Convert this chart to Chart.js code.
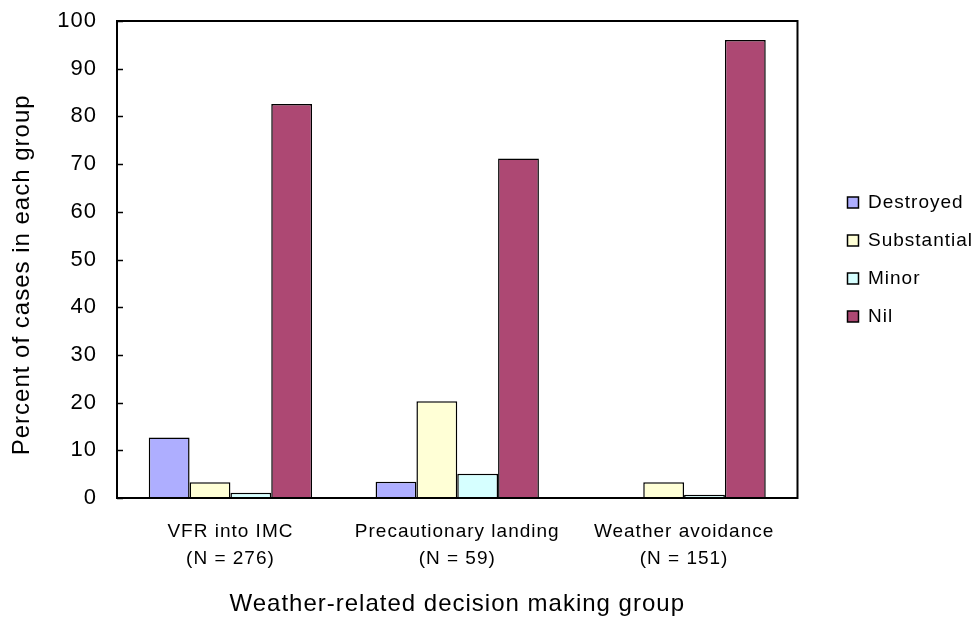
<!DOCTYPE html>
<html>
<head>
<meta charset="utf-8">
<script src="https://cdn.jsdelivr.net/npm/chart.js@4.4.1/dist/chart.umd.min.js"></script>
<style>
  body{margin:0;background:#fff;}
  #wrap{width:977px;height:621px;position:relative;}
</style>
</head>
<body>
<div id="wrap"><canvas id="Barcanvas"></canvas></div>
<script>
// groups and damage categories (percent of cases)
var groups = [["VFR into IMC", "(N = 276)"], ["Precautionary landing", "(N = 59)"], ["Weather avoidance", "(N = 151)"]];
var destroyed   = [12.7, 3.4, 0];
var substantial = [3.3, 20.3, 3.3];
var minor       = [1.1, 5.1, 0.7];
var nil         = [82.6, 71.2, 96.0];
var yTicks = [0, 10, 20, 30, 40, 50, 60, 70, 80, 90, 100];

var FONT = "'Liberation Sans', Arial, sans-serif";

// the original text is set a bit loose, canvas state gets reset on resize so set it each time
var spacing = {
    id: 'spacing',
    beforeUpdate: function(chart){ chart.ctx.letterSpacing = '1px'; },
    beforeDraw: function(chart){ chart.ctx.letterSpacing = '1px'; }
};

// closed box round the plot area + tick marks pointing inwards on the value axis
var frame = {
    id: 'frame',
    afterDraw: function(chart){
        var a = chart.chartArea, ctx = chart.ctx, y = chart.scales.y;
        ctx.save();
        ctx.strokeStyle = '#000';
        ctx.lineWidth = 1.5;
        for(var i=0;i<yTicks.length;i++){
            var py = Math.round(y.getPixelForValue(yTicks[i])) + 0.5;
            ctx.beginPath();
            ctx.moveTo(a.left, py);
            ctx.lineTo(a.left + 6, py);
            ctx.stroke();
        }
        ctx.lineWidth = 2;
        ctx.strokeRect(a.left, a.top, a.right - a.left, a.bottom - a.top);
        ctx.restore();
    }
};

var BarData = {
    labels: groups,
    datasets: [
        {label: 'Destroyed',   data: destroyed,   backgroundColor: '#aeaeff'},
        {label: 'Substantial', data: substantial, backgroundColor: '#ffffd6'},
        {label: 'Minor',       data: minor,       backgroundColor: '#d6ffff'},
        {label: 'Nil',         data: nil,         backgroundColor: '#ad4873'}
    ]
};
BarData.datasets.forEach(function(d){
    d.borderColor = '#000';
    d.borderWidth = 1.5;
    d.categoryPercentage = 0.72;
    d.barPercentage = 1.0;
});

var ctx1 = document.getElementById("Barcanvas").getContext("2d");
window.myBar = new Chart(ctx1, {
    type: 'bar',
    data: BarData,
    plugins: [spacing, frame],
    options: {
        responsive: true,
        maintainAspectRatio: false,
        animation: false,
        layout: {padding: {top: 21, left: 4, right: -6, bottom: 0}},
        plugins: {
            tooltip: {enabled: false},
            legend: {
                position: 'right',
                fullSize: false,
                labels: {
                    color: '#000',
                    font: {family: FONT, size: 19},
                    boxWidth: 11,
                    boxHeight: 11,
                    padding: 19
                }
            }
        },
        scales: {
            x: {
                grid: {display: false},
                border: {display: false},
                ticks: {
                    color: '#000',
                    font: {family: FONT, size: 19, lineHeight: 1.42},
                    padding: 12,
                    maxRotation: 0,
                    autoSkip: false
                },
                title: {
                    display: true,
                    text: 'Weather-related decision making group',
                    color: '#000',
                    font: {family: FONT, size: 24},
                    padding: {top: 0, bottom: 2}
                },
                afterFit: function(s){ s.height = 123; }
            },
            y: {
                min: 0,
                max: 100,
                afterBuildTicks: function(s){ s.ticks = yTicks.map(function(v){ return {value: v}; }); },
                grid: {display: false},
                border: {display: false},
                ticks: {
                    color: '#000',
                    font: {family: FONT, size: 22},
                    padding: 12
                },
                title: {
                    display: true,
                    text: 'Percent of cases in each group    ',
                    color: '#000',
                    font: {family: FONT, size: 24},
                    padding: {top: 4, bottom: 0}
                },
                afterFit: function(s){ s.width = 113; s.paddingTop = 0; s.paddingBottom = 0; }
            },
            y2: {
                position: 'right',
                display: true,
                grid: {display: false},
                border: {display: false},
                ticks: {display: false},
                afterFit: function(s){ s.width = 31; s.paddingTop = 0; s.paddingBottom = 0; }
            }
        }
    }
});
</script>
</body>
</html>
